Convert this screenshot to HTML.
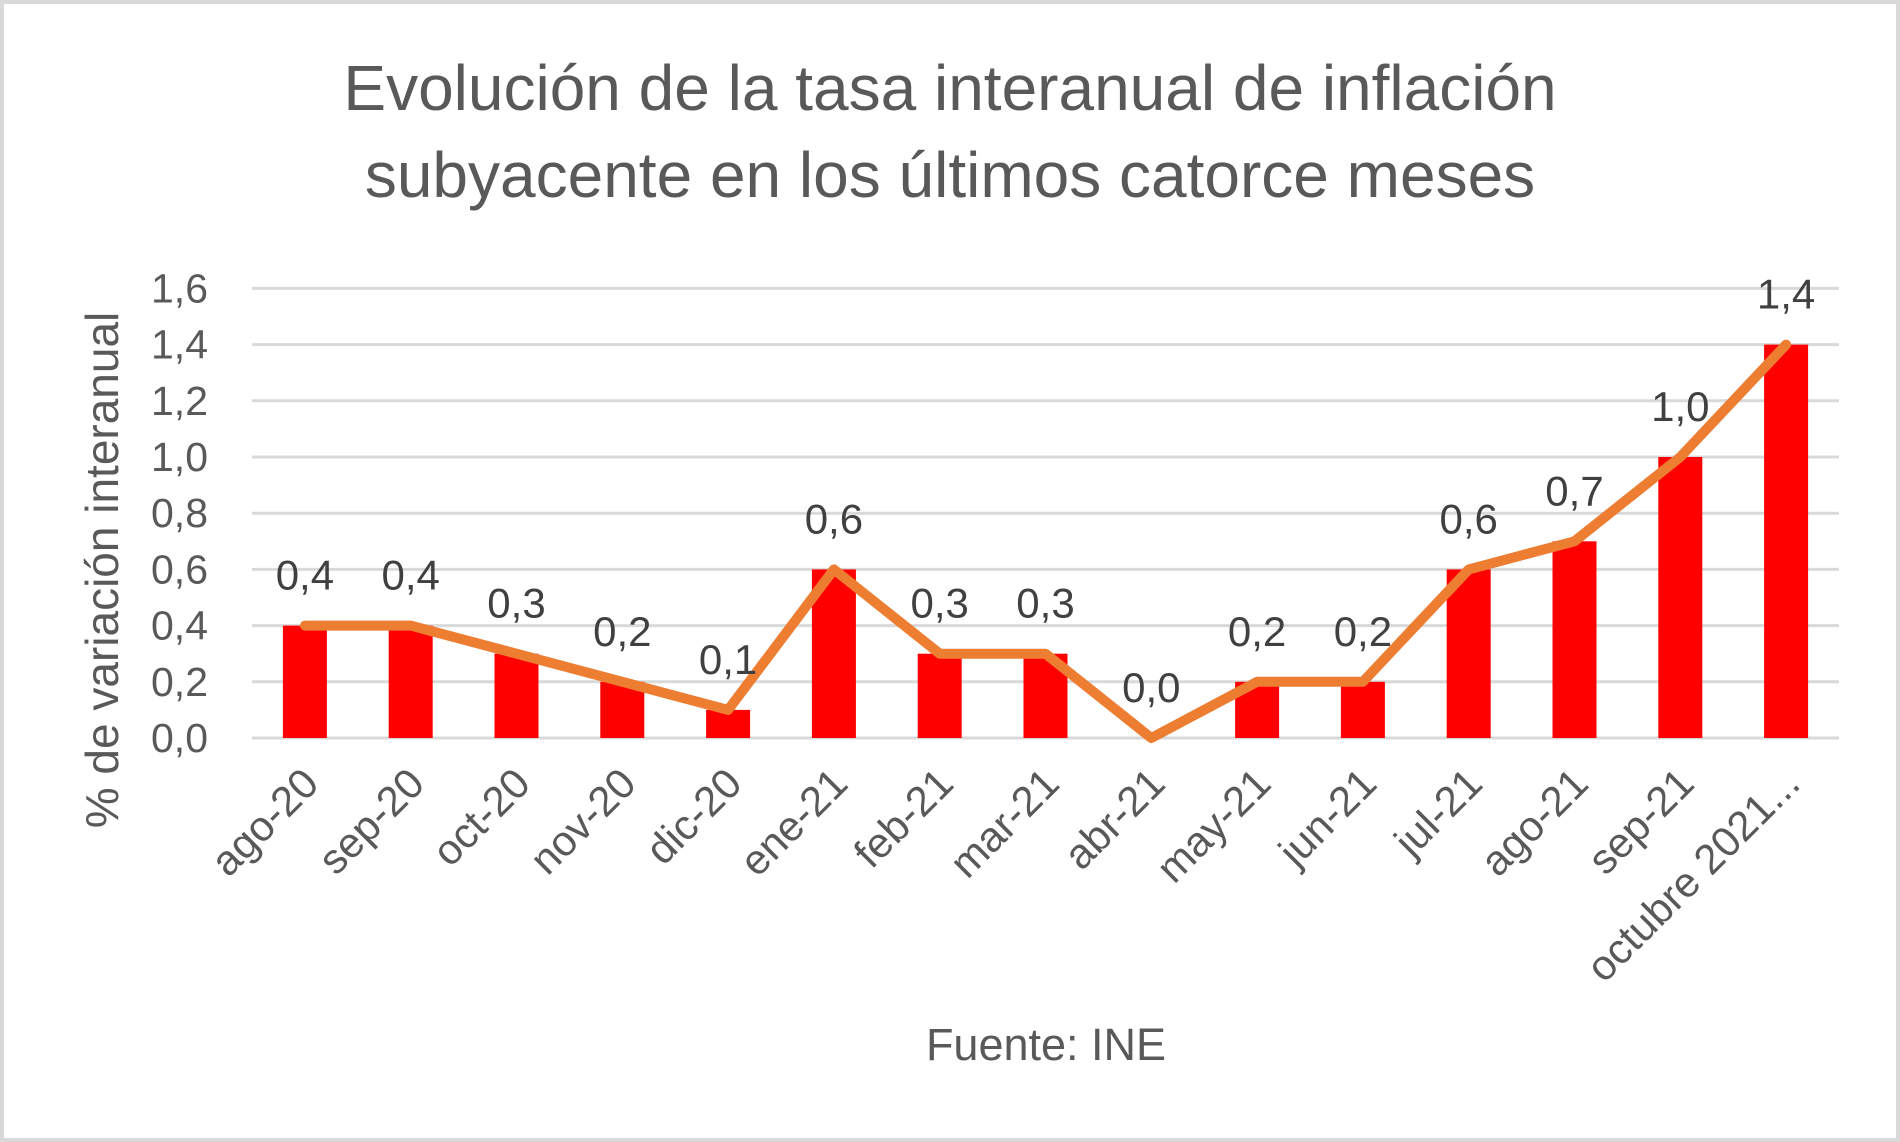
<!DOCTYPE html>
<html><head><meta charset="utf-8"><style>
body{margin:0;background:#fff;}
svg{display:block;font-family:"Liberation Sans",sans-serif;}
</style></head><body>
<svg id="chart" width="1900" height="1142">
<rect x="2" y="2" width="1896" height="1138" fill="#fff" stroke="#d9d9d9" stroke-width="4"/>
<text x="950" y="110" text-anchor="middle" font-size="64" fill="#595959">Evolución de la tasa interanual de inflación</text>
<text x="950" y="197" text-anchor="middle" font-size="64" fill="#595959">subyacente en los últimos catorce meses</text>
<text transform="translate(118,570) rotate(-90)" text-anchor="middle" font-size="46" fill="#595959">% de variación interanual</text>
<text x="1046" y="1060" text-anchor="middle" font-size="45" fill="#595959">Fuente: INE</text>
<g id="grid"></g><g id="bars"></g><g id="line"></g><g id="labels"></g>
</svg>
<script>
const categories=["ago-20","sep-20","oct-20","nov-20","dic-20","ene-21","feb-21","mar-21","abr-21","may-21","jun-21","jul-21","ago-21","sep-21","octubre 2021..."];
const barValues=[0.4,0.4,0.3,0.2,0.1,0.6,0.3,0.3,0.0,0.2,0.2,0.6,0.7,1.0,1.4];
const lineValues=[0.4,0.4,0.3,0.2,0.1,0.6,0.3,0.3,0.0,0.2,0.2,0.6,0.7,1.0,1.4];
const yTicks=[0,0.2,0.4,0.6,0.8,1.0,1.2,1.4,1.6];
const NS="http://www.w3.org/2000/svg";
const x0=252,x1=1839,yb=738,yt=288.4,yMax=1.6;
const step=(x1-x0)/categories.length;
const xs=i=>x0+step*(i+0.5);
const ys=v=>yb-(v/yMax)*(yb-yt);
const fmt=v=>v.toFixed(1).replace('.',',');
function mk(t,a,p){const e=document.createElementNS(NS,t);for(const k in a)e.setAttribute(k,a[k]);p.appendChild(e);return e;}
const grid=document.getElementById('grid');
yTicks.forEach(v=>{
 const l=mk('line',{x1:x0,x2:x1,y1:ys(v),y2:ys(v),stroke:'#d9d9d9','stroke-width':3},grid);
 
 
 const t=mk('text',{x:x0-44,y:ys(v)+14,'text-anchor':'end','font-size':41,fill:'#595959'},grid);
 t.textContent=fmt(v);
 
 
});
const bars=document.getElementById('bars');
barValues.forEach((v,i)=>{
 const r=mk('rect',{x:xs(i)-22,y:ys(v),width:44,height:yb-ys(v),fill:'#ff0000'},bars);
 
 
});
const lg=document.getElementById('line');
const p=mk('polyline',{points:lineValues.map((v,i)=>xs(i)+','+ys(v)).join(' '),fill:'none',stroke:'#ed7d31','stroke-width':10,'stroke-linejoin':'round','stroke-linecap':'round'},lg);


const lab=document.getElementById('labels');
barValues.forEach((v,i)=>{
 const t=mk('text',{x:xs(i),y:ys(v)-36,'text-anchor':'middle','font-size':42,fill:'#404040'},lab);
 t.textContent=fmt(v);
 
 
});
categories.forEach((c,i)=>{
 const t=mk('text',{transform:'translate('+(xs(i)+16)+','+(yb+48)+') rotate(-45)','text-anchor':'end','font-size':42,fill:'#595959'},lab);
 t.textContent=c;
 
 
});
</script>
</body></html>
